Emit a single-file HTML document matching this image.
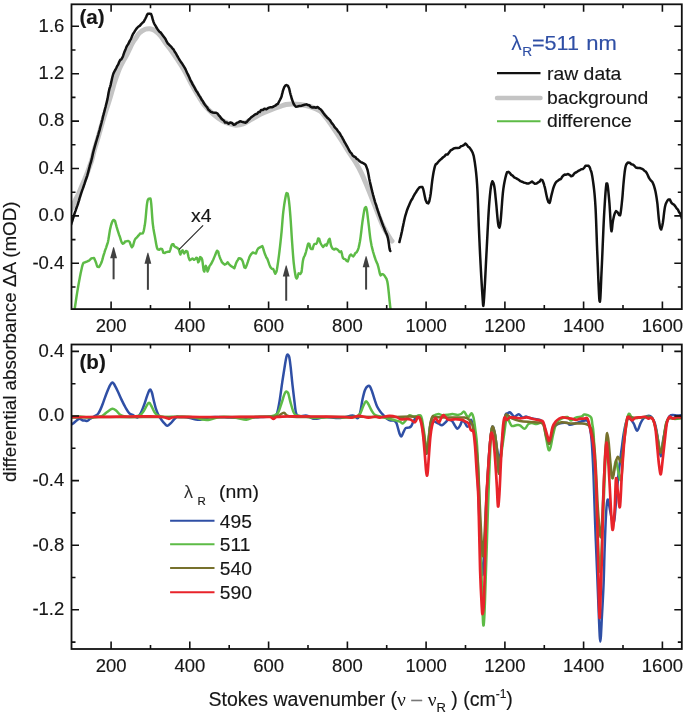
<!DOCTYPE html><html><head><meta charset="utf-8"><style>html,body{margin:0;padding:0;background:#fff;}svg{display:block;filter:blur(0.35px);} text{font-family:'Liberation Sans', sans-serif;fill:#161616;stroke:#161616;stroke-width:0.15px;}</style></head><body>
<svg width="685" height="716" viewBox="0 0 685 716">
<rect width="685" height="716" fill="#fff"/>
<defs><clipPath id="ca"><rect x="71.5" y="4.3" width="610.3" height="304.8"/></clipPath><clipPath id="cb"><rect x="71.5" y="344.5" width="610.3" height="304.5"/></clipPath></defs>
<g clip-path="url(#ca)" fill="none" stroke-linejoin="round" stroke-linecap="round">
<path d="M70.00,211.00 C70.43,210.33 71.77,208.67 72.60,207.00 C73.43,205.33 74.10,203.00 75.00,201.00 C75.90,199.00 77.00,197.17 78.00,195.00 C79.00,192.83 80.00,190.33 81.00,188.00 C82.00,185.67 83.08,183.17 84.00,181.00 C84.92,178.83 85.67,177.17 86.50,175.00 C87.33,172.83 88.12,170.50 89.00,168.00 C89.88,165.50 90.92,163.00 91.80,160.00 C92.68,157.00 93.23,153.83 94.30,150.00 C95.37,146.17 96.98,141.17 98.20,137.00 C99.42,132.83 100.53,128.67 101.60,125.00 C102.67,121.33 103.57,118.33 104.60,115.00 C105.63,111.67 106.85,108.00 107.80,105.00 C108.75,102.00 109.55,99.50 110.30,97.00 C111.05,94.50 111.63,92.33 112.30,90.00 C112.97,87.67 113.60,85.25 114.30,83.00 C115.00,80.75 115.80,78.50 116.50,76.50 C117.20,74.50 117.80,72.75 118.50,71.00 C119.20,69.25 119.87,67.75 120.70,66.00 C121.53,64.25 122.53,62.27 123.50,60.50 C124.47,58.73 125.53,57.23 126.50,55.40 C127.47,53.57 128.35,51.48 129.30,49.50 C130.25,47.52 131.17,45.33 132.20,43.50 C133.23,41.67 134.30,40.25 135.50,38.50 C136.70,36.75 137.78,34.53 139.40,33.00 C141.02,31.47 143.45,30.02 145.20,29.30 C146.95,28.58 148.33,28.52 149.90,28.70 C151.47,28.88 152.85,29.23 154.60,30.40 C156.35,31.57 158.47,33.45 160.40,35.70 C162.33,37.95 164.60,41.72 166.20,43.90 C167.80,46.08 168.20,46.28 170.00,48.80 C171.80,51.32 174.57,55.30 177.00,59.00 C179.43,62.70 182.10,66.67 184.60,71.00 C187.10,75.33 189.60,80.67 192.00,85.00 C194.40,89.33 196.83,93.50 199.00,97.00 C201.17,100.50 202.53,103.08 205.00,106.00 C207.47,108.92 210.97,112.08 213.80,114.50 C216.63,116.92 219.30,118.92 222.00,120.50 C224.70,122.08 227.67,123.20 230.00,124.00 C232.33,124.80 233.83,125.30 236.00,125.30 C238.17,125.30 240.37,125.05 243.00,124.00 C245.63,122.95 249.30,120.42 251.80,119.00 C254.30,117.58 255.82,116.62 258.00,115.50 C260.18,114.38 262.90,113.18 264.90,112.30 C266.90,111.42 267.48,111.17 270.00,110.20 C272.52,109.23 277.33,107.45 280.00,106.50 C282.67,105.55 284.00,104.92 286.00,104.50 C288.00,104.08 289.67,104.00 292.00,104.00 C294.33,104.00 297.00,104.08 300.00,104.50 C303.00,104.92 306.67,105.42 310.00,106.50 C313.33,107.58 317.50,109.33 320.00,111.00 C322.50,112.67 323.33,114.50 325.00,116.50 C326.67,118.50 328.33,120.67 330.00,123.00 C331.67,125.33 332.92,127.33 335.00,130.50 C337.08,133.67 340.17,138.33 342.50,142.00 C344.83,145.67 346.85,149.17 349.00,152.50 C351.15,155.83 353.35,158.62 355.40,162.00 C357.45,165.38 359.33,168.72 361.30,172.80 C363.27,176.88 364.92,180.97 367.20,186.50 C369.48,192.03 372.40,199.48 375.00,206.00 C377.60,212.52 380.20,220.05 382.80,225.60 C385.40,231.15 389.07,236.73 390.60,239.30 C392.13,241.87 391.77,240.72 392.00,241.00" stroke="#c4c4c4" stroke-width="5"/>
<path d="M71.10,224.60 L71.71,222.68 L72.36,220.81 L73.00,218.47 L73.59,216.82 L74.19,214.69 L74.86,212.60 L75.63,210.62 L76.22,208.72 L76.82,207.00 L77.43,205.40 L78.00,203.76 L78.53,201.92 L79.05,200.32 L79.55,198.44 L80.07,196.83 L80.60,195.14 L81.17,193.31 L81.76,191.57 L82.35,189.85 L82.94,188.39 L83.50,186.77 L84.03,185.18 L84.55,183.71 L85.29,181.27 L86.00,179.29 L86.67,177.26 L87.31,175.34 L87.91,173.16 L88.47,171.20 L88.97,168.98 L89.47,167.13 L89.97,165.03 L90.45,163.50 L90.95,162.18 L91.50,159.76 L91.90,158.39 L92.30,156.47 L92.74,154.38 L93.23,152.31 L93.80,150.06 L94.47,147.70 L95.24,144.93 L96.04,142.18 L96.85,139.49 L97.60,136.88 L98.30,134.53 L98.99,132.01 L99.66,129.86 L100.30,127.20 L100.90,125.07 L101.45,122.98 L101.95,120.85 L102.43,119.32 L102.91,116.92 L103.40,115.17 L103.93,113.07 L104.48,111.19 L105.03,108.68 L105.54,107.02 L106.00,105.02 L106.56,102.85 L107.03,100.90 L107.46,99.14 L107.87,96.86 L108.24,94.68 L108.61,92.46 L109.06,90.52 L109.56,88.21 L110.10,86.87 L110.70,84.61 L111.14,82.60 L111.61,80.56 L112.10,78.28 L112.60,76.44 L113.10,74.53 L113.85,72.55 L114.61,71.11 L115.42,69.70 L116.28,67.97 L117.19,65.93 L118.15,64.63 L119.14,61.98 L120.23,59.93 L121.33,59.30 L122.30,57.67 L123.08,55.94 L123.74,53.94 L124.38,52.07 L125.05,50.42 L125.71,48.91 L126.40,47.08 L127.17,45.50 L128.02,44.51 L128.93,42.66 L129.90,40.60 L130.90,39.15 L131.59,37.32 L132.32,35.50 L133.09,33.86 L133.93,32.77 L134.83,31.10 L135.78,29.66 L136.76,28.28 L138.20,26.74 L139.69,25.87 L141.19,24.17 L142.53,22.75 L143.76,21.78 L144.58,20.06 L145.44,18.50 L146.17,16.99 L146.90,15.18 L147.82,13.82 L149.50,13.62 L151.04,14.06 L151.96,16.40 L152.47,18.46 L153.01,20.47 L153.60,22.20 L154.44,24.07 L155.42,25.74 L156.32,27.24 L157.38,28.97 L158.48,30.44 L159.54,31.87 L160.87,32.68 L162.30,34.69 L163.60,36.44 L164.59,37.79 L165.61,39.26 L166.58,41.40 L167.74,43.48 L168.81,44.32 L170.00,45.65 L171.38,46.95 L172.58,48.58 L173.59,49.53 L174.71,51.71 L175.85,53.27 L176.96,55.44 L178.04,57.26 L179.12,59.26 L180.20,60.84 L181.31,62.59 L182.42,64.10 L183.53,65.87 L184.62,67.66 L185.70,69.63 L186.42,71.37 L187.14,73.02 L187.87,74.35 L188.61,75.91 L189.35,77.57 L190.09,79.43 L190.83,80.96 L191.56,82.12 L192.61,84.39 L193.66,86.11 L194.80,88.03 L195.63,89.90 L196.50,91.26 L197.40,92.38 L198.31,94.05 L199.20,95.62 L200.12,96.88 L201.07,98.60 L202.00,100.35 L202.86,101.20 L203.90,103.34 L204.92,104.79 L206.10,106.27 L207.13,107.43 L208.27,109.55 L209.40,110.50 L210.84,111.90 L212.71,112.43 L214.36,112.73 L216.14,112.74 L217.79,113.81 L218.89,115.52 L219.96,116.49 L221.10,118.25 L222.37,119.50 L223.71,120.42 L225.06,122.45 L226.82,122.42 L228.59,123.80 L230.34,122.48 L232.09,123.04 L233.79,124.85 L235.36,124.28 L236.82,122.94 L238.26,122.36 L240.06,121.18 L241.87,121.77 L243.72,122.32 L245.56,122.65 L246.96,121.82 L248.41,119.98 L249.63,119.00 L250.95,117.49 L252.31,116.44 L253.64,115.62 L255.40,114.31 L257.16,113.77 L258.48,112.03 L259.80,111.97 L261.12,109.94 L262.89,109.88 L264.70,108.66 L266.40,109.31 L268.19,107.93 L270.00,107.37 L271.79,107.31 L273.66,106.49 L275.25,105.71 L276.59,104.48 L277.90,103.92 L278.96,101.75 L280.03,99.72 L280.70,98.37 L281.57,96.44 L282.03,94.34 L282.43,92.89 L282.83,91.18 L283.50,89.19 L284.34,86.92 L285.26,85.65 L286.40,84.98 L287.95,85.89 L288.82,87.68 L289.27,88.94 L289.72,90.96 L290.18,92.96 L290.65,94.76 L291.16,96.46 L291.70,98.49 L292.26,100.12 L292.81,101.64 L293.60,103.82 L294.41,105.01 L295.80,106.72 L297.44,106.55 L299.37,106.09 L301.20,105.90 L303.02,105.23 L304.70,104.82 L306.46,104.37 L308.10,105.13 L309.41,105.16 L310.76,106.94 L312.33,107.49 L314.16,107.17 L315.90,107.76 L317.52,106.98 L319.30,108.53 L320.83,109.46 L321.99,111.00 L323.19,112.76 L324.35,114.38 L325.44,115.68 L327.03,117.44 L328.57,118.78 L330.00,120.23 L331.20,122.21 L332.25,123.66 L333.43,125.01 L334.42,126.85 L335.58,128.13 L336.83,129.42 L338.09,131.44 L339.27,132.59 L340.29,134.23 L341.17,135.99 L341.98,136.98 L342.76,138.76 L343.57,139.94 L344.45,141.96 L345.39,143.36 L346.35,145.32 L347.30,146.68 L348.19,148.51 L349.36,150.80 L350.38,152.36 L351.34,153.16 L352.67,155.49 L354.00,156.48 L355.40,157.07 L356.57,158.80 L357.80,159.29 L359.30,160.97 L360.76,162.11 L362.46,162.74 L363.95,163.61 L365.04,164.28 L365.97,165.57 L366.90,168.07 L367.49,169.76 L368.05,172.33 L368.59,175.00 L369.16,178.18 L369.77,181.19 L370.44,184.14 L371.17,187.14 L371.54,188.70 L371.93,190.24 L372.32,191.90 L372.73,193.48 L373.14,195.10 L373.57,196.58 L374.00,198.43 L374.45,199.81 L374.92,201.55 L375.40,203.14 L375.89,204.46 L376.39,205.95 L376.89,207.94 L377.40,209.29 L377.90,210.90 L378.41,212.38 L379.39,215.38 L380.40,218.08 L381.41,221.05 L382.40,223.69 L383.35,226.30 L384.24,228.23 L385.11,230.80 L385.94,232.57 L386.71,234.05 L387.40,236.16 L387.98,238.45 L388.45,241.05 L388.85,243.69 L389.18,246.31 L389.47,248.31 L389.83,250.01 L390.30,251.00" stroke="#111" stroke-width="2.5"/>
<path d="M399.40,242.10 L399.88,240.04 L400.32,238.26 L400.84,236.34 L401.41,233.65 L402.00,231.20 L402.65,227.83 L402.99,226.40 L403.35,224.54 L403.72,222.85 L404.10,220.90 L404.49,219.25 L404.89,217.52 L405.30,215.91 L406.15,213.14 L407.04,210.21 L407.97,207.74 L408.96,205.43 L410.00,202.91 L411.14,200.45 L412.37,198.69 L413.63,196.03 L414.86,193.86 L416.00,192.24 L417.06,190.45 L418.08,188.99 L419.50,187.20 L421.03,187.08 L422.45,187.11 L423.10,188.73 L423.58,190.48 L424.06,192.87 L424.55,195.17 L425.03,197.48 L425.50,199.72 L426.19,201.24 L426.88,202.88 L428.27,203.40 L429.24,201.41 L429.72,199.19 L430.20,196.81 L430.68,193.92 L430.92,191.96 L431.16,189.93 L431.40,187.85 L431.64,185.70 L431.88,183.58 L432.12,181.52 L432.36,179.75 L432.60,178.10 L433.08,175.03 L433.56,172.28 L434.03,169.98 L434.51,167.88 L435.00,165.95 L435.66,164.39 L436.83,163.68 L438.36,161.75 L439.89,160.12 L441.54,158.72 L443.10,157.27 L444.61,156.15 L446.10,154.40 L447.60,154.48 L449.10,152.43 L450.59,150.42 L452.10,149.61 L453.62,148.55 L455.66,148.04 L457.70,148.05 L459.29,147.82 L460.88,146.29 L462.30,145.91 L463.82,145.15 L465.53,143.53 L467.02,145.14 L468.23,146.91 L469.38,147.49 L470.54,149.07 L471.68,150.81 L472.70,152.78 L473.28,154.54 L473.81,156.43 L474.29,159.26 L474.74,161.95 L475.20,165.25 L475.43,166.99 L475.65,168.66 L475.87,170.53 L476.09,172.49 L476.30,174.70 L476.51,176.79 L476.71,179.21 L476.91,181.82 L477.11,184.69 L477.30,187.81 L477.49,191.29 L477.66,195.12 L477.84,199.26 L478.00,203.71 L478.17,208.26 L478.33,212.90 L478.50,217.50 L478.66,222.03 L478.83,226.44 L479.00,230.57 L479.18,234.58 L479.35,238.53 L479.53,242.45 L479.70,246.34 L479.88,250.10 L480.06,253.86 L480.24,257.53 L480.43,261.17 L480.61,264.75 L480.80,268.29 L481.00,271.83 L481.21,275.57 L481.43,279.32 L481.65,283.11 L481.87,286.73 L482.08,290.20 L482.29,293.44 L482.48,296.29 L482.65,298.86 L482.80,300.96 L482.92,302.55 L483.09,304.96 L483.34,305.90 L483.60,303.83 L483.83,301.32 L483.95,299.64 L484.08,297.80 L484.22,295.71 L484.35,293.50 L484.50,291.03 L484.65,288.61 L484.80,285.93 L484.96,283.08 L485.12,280.04 L485.28,276.86 L485.45,273.49 L485.63,269.96 L485.81,266.30 L485.99,262.47 L486.19,258.62 L486.39,254.73 L486.60,250.71 L486.82,246.44 L487.06,241.90 L487.30,237.09 L487.55,232.17 L487.81,227.26 L488.07,222.33 L488.33,217.63 L488.59,213.14 L488.85,208.99 L489.10,205.38 L489.35,202.22 L489.60,199.08 L489.85,196.26 L490.10,193.78 L490.35,191.39 L490.60,189.28 L490.85,187.51 L491.10,185.65 L491.60,183.36 L492.37,181.29 L493.40,182.87 L494.10,185.41 L494.49,187.59 L494.84,190.05 L495.16,193.01 L495.33,194.73 L495.51,196.63 L495.69,198.49 L495.90,200.35 L496.12,202.73 L496.36,205.19 L496.61,208.00 L496.87,211.02 L497.14,214.08 L497.40,217.03 L497.66,219.72 L497.92,222.06 L498.17,224.02 L498.62,226.28 L499.40,227.68 L499.98,225.66 L500.40,223.02 L500.63,220.97 L500.87,218.47 L501.11,215.47 L501.36,212.14 L501.62,208.64 L501.88,205.08 L502.13,201.57 L502.39,198.33 L502.65,195.33 L502.90,192.74 L503.15,190.67 L503.40,188.71 L503.65,187.01 L503.90,185.27 L504.40,182.43 L504.90,179.93 L505.40,177.81 L505.88,175.88 L506.34,174.20 L507.05,172.30 L508.56,171.85 L510.03,173.26 L511.27,174.86 L512.64,175.66 L514.20,177.33 L515.76,178.02 L517.13,178.87 L518.68,179.80 L520.50,181.17 L521.99,181.71 L523.50,182.44 L525.18,182.90 L527.06,183.47 L528.80,183.41 L530.49,182.51 L532.00,181.42 L533.52,182.84 L534.77,183.76 L536.56,183.51 L538.08,182.39 L539.50,181.70 L540.86,179.60 L542.38,180.11 L543.16,182.06 L543.88,183.95 L544.35,185.80 L544.85,187.41 L545.36,189.77 L545.86,192.34 L546.36,194.68 L546.86,196.90 L547.34,199.05 L547.81,200.31 L548.51,202.27 L549.61,202.94 L550.20,201.21 L550.58,199.30 L550.97,197.36 L551.40,195.49 L551.87,193.58 L552.36,191.72 L552.88,189.71 L553.39,187.93 L553.90,186.49 L554.61,184.84 L555.31,183.20 L556.40,181.75 L557.83,180.74 L559.42,179.48 L560.96,178.99 L562.11,176.86 L563.25,175.60 L564.74,174.57 L566.22,174.64 L568.08,174.03 L569.59,174.84 L571.12,176.20 L572.64,175.81 L573.79,174.18 L574.92,172.94 L576.41,172.25 L577.89,171.21 L579.37,170.45 L581.22,169.27 L582.80,169.11 L584.14,167.93 L585.57,165.69 L586.90,165.83 L588.67,165.85 L589.84,167.57 L590.67,170.12 L591.19,171.42 L591.69,173.24 L592.17,175.65 L592.65,178.62 L592.90,180.35 L593.15,182.13 L593.41,183.98 L593.67,185.98 L593.92,188.09 L594.18,190.36 L594.44,192.88 L594.69,195.56 L594.93,198.55 L595.17,201.78 L595.40,205.38 L595.62,209.42 L595.83,213.90 L596.03,218.78 L596.22,223.87 L596.41,229.22 L596.60,234.64 L596.79,240.07 L596.99,245.49 L597.19,250.71 L597.40,255.66 L597.62,260.88 L597.85,266.55 L598.08,272.45 L598.31,278.46 L598.55,284.22 L598.79,289.55 L599.02,294.29 L599.25,298.09 L599.48,300.73 L599.91,301.82 L600.31,298.62 L600.50,295.44 L600.69,291.63 L600.88,287.27 L601.07,282.57 L601.27,277.73 L601.48,272.96 L601.70,268.34 L601.93,263.54 L602.17,258.20 L602.41,252.47 L602.66,246.51 L602.92,240.45 L603.18,234.35 L603.43,228.41 L603.69,222.77 L603.95,217.61 L604.20,212.98 L604.45,208.75 L604.70,204.61 L604.95,200.62 L605.20,196.82 L605.45,193.33 L605.70,190.24 L605.95,187.64 L606.20,185.40 L606.45,183.52 L607.21,183.44 L607.72,185.81 L607.98,188.01 L608.23,190.14 L608.48,192.68 L608.73,195.30 L608.97,197.93 L609.20,200.38 L609.43,203.04 L609.65,206.22 L609.87,209.80 L610.09,213.49 L610.30,217.22 L610.51,220.87 L610.71,224.13 L610.91,226.98 L611.11,229.13 L611.48,231.35 L611.97,229.38 L612.28,226.37 L612.44,224.74 L612.62,223.12 L613.00,220.52 L613.45,218.51 L613.94,216.24 L614.46,214.34 L614.99,212.87 L616.01,211.13 L617.28,211.95 L618.45,213.79 L619.08,214.99 L620.10,215.29 L620.51,213.76 L620.92,210.94 L621.12,209.44 L621.33,207.67 L621.53,205.89 L621.72,204.08 L621.91,202.09 L622.10,200.40 L622.28,198.51 L622.46,196.58 L622.63,194.54 L622.80,192.46 L622.96,190.27 L623.13,188.18 L623.29,186.01 L623.46,183.99 L623.63,182.08 L623.80,180.34 L623.97,178.62 L624.14,176.95 L624.31,175.37 L624.65,172.30 L625.01,169.79 L625.39,167.51 L625.82,165.75 L626.51,164.09 L627.81,162.57 L629.67,162.72 L631.40,164.21 L632.85,164.62 L634.35,165.75 L635.85,167.50 L637.76,168.06 L639.66,168.04 L641.56,168.66 L643.08,169.33 L644.64,171.01 L645.78,171.63 L646.85,173.26 L647.83,175.25 L648.77,177.50 L649.70,178.94 L650.94,180.59 L652.14,181.71 L652.97,183.25 L653.76,185.19 L654.50,187.57 L654.97,189.42 L655.43,191.27 L655.87,193.50 L656.30,195.94 L656.71,198.62 L657.11,201.46 L657.49,204.43 L657.66,206.26 L657.84,208.05 L658.00,210.03 L658.17,211.90 L658.33,213.81 L658.50,215.68 L658.66,217.46 L658.83,219.02 L659.18,221.82 L659.53,224.27 L659.88,226.40 L660.24,228.10 L661.18,229.53 L661.95,226.96 L662.36,225.22 L662.80,223.00 L663.25,219.89 L663.47,218.22 L663.70,216.19 L663.94,214.16 L664.18,212.14 L664.44,210.21 L664.71,208.40 L665.00,206.80 L665.63,204.17 L666.39,202.49 L667.20,201.02 L668.40,199.38 L669.92,199.53 L670.60,201.14 L671.32,202.64 L672.56,203.95 L673.94,204.63 L675.18,206.06 L676.17,207.69 L677.13,208.87 L677.99,209.74 L678.96,212.05 L679.88,213.07 L680.62,214.47 L681.22,216.03 L681.68,217.97 L682.00,219.00" stroke="#111" stroke-width="2.5"/>
<path d="M74.50,310.20 L74.95,307.21 L75.24,305.24 L75.58,302.96 L75.94,300.55 L76.31,298.02 L76.70,295.55 L77.08,293.17 L77.45,290.82 L77.80,288.76 L78.14,286.73 L78.49,284.75 L78.85,282.76 L79.21,280.69 L79.57,278.95 L79.92,277.09 L80.27,275.35 L80.60,273.56 L81.20,270.67 L81.70,268.42 L82.11,266.59 L82.69,264.57 L83.40,262.99 L85.03,262.28 L86.80,261.69 L88.45,260.91 L89.77,259.94 L91.15,258.54 L92.57,258.14 L94.02,258.00 L94.87,259.87 L95.48,261.30 L96.14,263.01 L96.78,265.17 L97.47,266.89 L98.95,267.11 L100.00,265.53 L101.01,263.56 L101.83,261.51 L102.30,259.99 L102.74,258.45 L103.16,256.59 L103.60,255.12 L104.27,253.05 L104.92,250.86 L105.58,249.07 L106.24,247.32 L106.89,245.23 L107.55,243.44 L108.00,241.69 L108.46,239.30 L108.92,236.55 L109.38,233.53 L109.84,230.60 L110.30,228.36 L110.75,226.41 L111.19,224.75 L111.84,222.75 L112.50,221.17 L113.59,219.90 L114.93,220.70 L115.62,223.13 L116.08,224.80 L116.54,226.64 L117.00,228.17 L117.66,230.29 L118.32,232.31 L118.98,234.48 L119.66,236.19 L120.35,238.47 L121.04,240.67 L121.72,242.39 L122.82,243.83 L124.32,242.91 L125.15,241.44 L126.51,241.22 L128.28,240.86 L129.61,241.88 L130.51,244.34 L131.08,245.94 L131.92,247.31 L133.01,245.84 L133.52,244.00 L134.05,242.09 L134.61,240.25 L135.54,238.65 L136.92,237.38 L138.20,235.74 L139.20,234.80 L140.06,233.48 L141.38,233.64 L142.70,233.34 L143.39,231.98 L143.85,230.31 L144.31,227.88 L144.77,225.30 L145.22,222.10 L145.45,219.96 L145.67,217.78 L145.89,215.33 L146.11,212.85 L146.32,210.42 L146.54,208.10 L146.76,205.95 L146.98,204.15 L147.42,201.39 L147.88,199.72 L148.78,198.66 L150.37,198.41 L150.83,200.31 L151.17,203.04 L151.34,204.94 L151.51,207.07 L151.69,209.45 L151.86,212.02 L152.04,214.61 L152.22,217.16 L152.41,219.65 L152.60,221.81 L152.80,223.85 L153.00,225.45 L153.43,228.50 L153.88,231.23 L154.33,233.70 L154.78,236.04 L155.22,238.47 L155.66,241.05 L156.09,243.57 L156.53,245.89 L156.98,247.68 L157.66,249.39 L159.27,249.82 L160.61,248.79 L161.91,248.85 L162.72,250.72 L163.38,252.75 L164.87,253.06 L166.33,252.09 L168.03,251.82 L169.50,251.70 L170.33,249.59 L170.93,247.39 L171.51,245.45 L172.30,244.11 L173.43,244.30 L174.10,246.02 L175.68,247.16 L177.25,247.94 L178.60,249.05 L179.21,250.62 L179.72,252.85 L180.40,254.50 L181.12,252.86 L181.65,251.37 L182.56,250.30 L183.28,252.04 L184.10,253.47 L185.12,252.26 L185.96,250.92 L187.34,251.55 L187.88,254.07 L188.42,256.56 L188.96,258.45 L189.77,260.12 L191.11,259.35 L192.48,258.45 L193.95,259.80 L195.42,259.02 L196.13,257.82 L197.16,257.86 L197.70,260.12 L198.24,262.35 L199.14,261.09 L199.68,259.39 L200.22,257.07 L201.48,257.93 L202.20,259.77 L202.56,261.98 L202.92,264.89 L203.28,267.85 L203.64,270.38 L204.36,271.58 L204.89,268.90 L205.25,266.91 L205.80,265.83 L206.56,267.24 L206.94,268.73 L207.51,271.44 L208.43,269.41 L208.96,267.85 L209.50,266.16 L210.52,264.71 L211.53,263.20 L212.29,261.66 L213.12,260.04 L214.00,257.88 L214.64,256.36 L215.33,254.78 L216.03,252.75 L217.01,250.68 L218.24,251.78 L218.84,254.31 L219.50,256.39 L220.27,258.46 L221.10,260.24 L221.93,262.15 L223.01,263.28 L224.63,264.65 L226.24,263.92 L227.60,262.29 L228.94,264.06 L230.09,265.24 L231.45,266.38 L232.59,267.02 L234.31,268.24 L235.14,266.06 L235.66,264.43 L236.17,263.00 L236.97,261.27 L237.78,260.09 L238.85,258.12 L240.52,258.50 L241.92,259.73 L242.75,261.52 L243.29,263.36 L243.82,265.43 L244.36,267.43 L245.44,267.94 L246.25,266.34 L247.06,264.21 L247.87,261.89 L248.41,260.14 L248.94,258.73 L249.48,256.97 L250.30,255.44 L251.42,253.79 L252.82,252.49 L254.51,253.16 L256.01,253.49 L256.64,251.48 L257.14,250.08 L258.24,248.30 L259.85,247.44 L261.40,246.56 L262.30,246.10 L262.99,247.66 L263.55,249.75 L264.14,251.55 L264.72,253.49 L265.54,255.40 L266.35,257.42 L267.16,258.55 L267.97,260.57 L268.51,262.08 L269.04,263.72 L269.58,265.20 L270.40,267.15 L271.80,268.74 L273.20,269.01 L274.02,270.86 L274.56,272.47 L275.36,273.77 L276.44,271.68 L276.98,269.13 L277.25,267.62 L277.52,265.72 L277.79,263.92 L278.06,262.07 L278.33,260.10 L278.60,258.10 L278.87,256.10 L279.15,253.87 L279.44,251.49 L279.72,249.06 L280.01,246.62 L280.28,244.17 L280.56,241.62 L280.82,239.15 L281.07,236.76 L281.30,234.45 L281.52,232.26 L281.72,229.99 L281.90,227.81 L282.08,225.53 L282.25,223.43 L282.42,221.29 L282.58,219.19 L282.75,217.29 L282.92,215.37 L283.10,213.52 L283.29,211.88 L283.48,210.32 L283.86,207.31 L284.24,204.68 L284.62,202.24 L285.00,200.04 L285.37,197.95 L285.73,196.10 L286.08,194.46 L286.62,193.03 L287.70,193.53 L288.24,196.15 L288.60,198.27 L288.96,200.86 L289.32,204.08 L289.50,205.96 L289.68,207.74 L289.86,209.82 L290.04,211.97 L290.22,214.04 L290.40,216.32 L290.58,218.72 L290.76,221.24 L290.94,223.97 L291.12,226.80 L291.30,229.65 L291.48,232.57 L291.66,235.46 L291.84,238.28 L292.02,240.96 L292.20,243.50 L292.38,245.91 L292.55,248.33 L292.72,250.72 L292.89,253.01 L293.06,255.23 L293.24,257.41 L293.42,259.62 L293.60,261.59 L293.80,263.50 L294.00,265.19 L294.22,267.10 L294.44,268.87 L294.68,270.66 L294.93,272.27 L295.43,275.22 L295.92,277.58 L296.63,278.45 L297.48,277.22 L297.91,275.42 L298.60,273.30 L300.26,273.99 L301.51,272.02 L301.88,269.42 L302.20,266.62 L302.52,263.70 L302.89,261.02 L303.33,258.93 L303.84,257.28 L304.67,255.74 L305.52,253.54 L306.08,251.53 L306.66,249.20 L307.26,246.94 L307.83,244.64 L308.36,243.57 L309.39,243.98 L309.89,246.16 L310.40,248.13 L311.30,249.01 L312.55,249.05 L313.04,247.37 L313.58,245.49 L314.50,243.87 L316.20,243.90 L317.12,242.53 L317.65,240.26 L318.15,238.42 L319.21,238.94 L319.77,240.78 L320.40,242.71 L321.18,244.24 L322.05,245.74 L323.10,246.98 L324.22,245.67 L325.25,244.53 L326.48,245.64 L327.47,243.58 L328.04,241.82 L328.62,240.12 L329.62,238.82 L330.18,241.15 L330.52,243.06 L330.88,244.90 L331.54,246.80 L332.60,248.71 L334.00,249.57 L335.62,248.66 L337.25,249.37 L338.38,250.41 L339.62,252.02 L341.20,251.39 L341.74,253.05 L342.28,255.47 L342.88,257.85 L343.88,258.87 L345.56,259.36 L346.54,260.84 L347.83,261.43 L348.61,259.05 L349.17,257.11 L349.74,255.68 L350.86,254.52 L352.01,255.48 L353.35,256.36 L354.27,255.12 L355.17,253.35 L356.59,252.30 L357.80,250.24 L358.52,248.05 L359.00,246.14 L359.48,243.76 L359.96,241.21 L360.44,238.14 L360.68,236.38 L360.92,234.41 L361.16,232.51 L361.41,230.39 L361.65,228.26 L361.89,226.22 L362.13,224.36 L362.36,222.38 L362.60,220.74 L362.84,219.14 L363.08,217.49 L363.56,214.32 L364.03,211.60 L364.48,209.32 L364.90,207.90 L365.93,207.03 L366.60,208.90 L366.96,210.88 L367.32,213.44 L367.69,216.46 L367.89,218.08 L368.08,219.73 L368.29,221.46 L368.50,223.05 L368.71,224.80 L368.93,226.67 L369.15,228.54 L369.37,230.57 L369.60,232.52 L369.84,234.59 L370.08,236.63 L370.34,238.56 L370.61,240.37 L370.90,242.09 L371.20,243.64 L371.53,245.46 L372.22,248.39 L372.94,251.29 L373.68,253.75 L374.40,256.28 L375.13,258.29 L375.89,260.54 L376.64,262.35 L377.36,263.74 L378.00,265.79 L378.56,267.92 L379.05,269.98 L379.50,272.13 L379.95,273.97 L380.63,275.38 L382.01,274.08 L383.41,274.46 L384.62,275.79 L385.58,277.33 L386.54,278.85 L387.26,281.28 L387.75,284.04 L388.01,285.87 L388.27,288.14 L388.54,290.53 L388.81,293.04 L389.06,295.59 L389.30,298.01 L389.53,300.26 L389.73,302.15 L389.90,303.75 L390.16,306.11 L390.40,308.23 L390.60,310.00" stroke="#5dbb46" stroke-width="2.45"/>
</g>
<line x1="113.6" y1="256.2" x2="113.6" y2="279.3" stroke="#404040" stroke-width="2"/>
<polygon points="110.2,258.2 113.2,247.2 114.0,247.2 117.0,258.2" fill="#404040"/>
<line x1="147.9" y1="261.8" x2="147.9" y2="289.8" stroke="#404040" stroke-width="2"/>
<polygon points="144.5,263.8 147.5,252.8 148.3,252.8 151.3,263.8" fill="#404040"/>
<line x1="286.2" y1="274.6" x2="286.2" y2="300.7" stroke="#404040" stroke-width="2"/>
<polygon points="282.8,276.6 285.8,265.6 286.6,265.6 289.6,276.6" fill="#404040"/>
<line x1="366.1" y1="265.3" x2="366.1" y2="289.6" stroke="#404040" stroke-width="2"/>
<polygon points="362.7,267.3 365.7,256.3 366.5,256.3 369.5,267.3" fill="#404040"/>
<line x1="203.1" y1="225.4" x2="179.2" y2="249.4" stroke="#222" stroke-width="1.1"/>
<text transform="translate(191.00,221.90) scale(1.08,1)" font-size="18">x4</text>
<g clip-path="url(#cb)" fill="none" stroke-linejoin="round" stroke-linecap="round">
<path d="M72.00,424.10 C72.25,423.95 72.67,423.85 73.50,423.20 C74.33,422.55 75.98,420.93 77.00,420.20 C78.02,419.47 78.72,418.80 79.60,418.80 C80.48,418.80 81.42,419.90 82.30,420.20 C83.18,420.50 84.03,420.48 84.90,420.60 C85.77,420.72 86.63,421.20 87.50,420.90 C88.37,420.60 89.03,419.52 90.10,418.80 C91.17,418.08 92.60,417.40 93.90,416.60 C95.20,415.80 96.80,415.20 97.90,414.00 C99.00,412.80 99.63,411.25 100.50,409.40 C101.37,407.55 102.12,405.52 103.10,402.90 C104.08,400.28 105.30,396.55 106.40,393.70 C107.50,390.85 108.72,387.67 109.70,385.80 C110.68,383.93 111.53,382.72 112.30,382.50 C113.07,382.28 113.42,383.08 114.30,384.50 C115.18,385.92 116.40,388.48 117.60,391.00 C118.80,393.52 120.18,396.85 121.50,399.60 C122.82,402.35 124.18,405.20 125.50,407.50 C126.82,409.80 128.08,412.10 129.40,413.40 C130.72,414.70 132.08,414.62 133.40,415.30 C134.72,415.98 136.10,417.82 137.30,417.50 C138.50,417.18 139.50,415.40 140.60,413.40 C141.70,411.40 142.80,408.47 143.90,405.50 C145.00,402.53 146.22,398.23 147.20,395.60 C148.18,392.97 149.03,390.25 149.80,389.70 C150.57,389.15 151.15,390.55 151.80,392.30 C152.45,394.05 153.05,397.57 153.70,400.20 C154.35,402.83 154.93,405.68 155.70,408.10 C156.47,410.52 157.32,412.73 158.30,414.70 C159.28,416.67 160.50,418.37 161.60,419.90 C162.70,421.43 163.92,422.92 164.90,423.90 C165.88,424.88 166.52,425.92 167.50,425.80 C168.48,425.68 169.70,424.28 170.80,423.20 C171.90,422.12 173.00,420.42 174.10,419.30 C175.20,418.18 176.50,416.87 177.40,416.50 C178.30,416.13 178.42,417.00 179.50,417.10 C180.58,417.20 182.15,416.95 183.90,417.10 C185.65,417.25 187.98,417.60 190.00,418.00 C192.02,418.40 194.20,419.22 196.00,419.50 C197.80,419.78 199.13,419.95 200.80,419.70 C202.47,419.45 203.63,418.45 206.00,418.00 C208.37,417.55 211.00,417.08 215.00,417.00 C219.00,416.92 225.00,417.33 230.00,417.50 C235.00,417.67 240.00,418.08 245.00,418.00 C250.00,417.92 255.83,417.25 260.00,417.00 C264.17,416.75 267.58,416.63 270.00,416.50 C272.42,416.37 273.37,416.57 274.50,416.20 C275.63,415.83 275.95,416.85 276.80,414.30 C277.65,411.75 278.68,406.30 279.60,400.90 C280.52,395.50 281.38,388.05 282.30,381.90 C283.22,375.75 284.40,368.23 285.10,364.00 C285.80,359.77 286.12,358.08 286.50,356.50 C286.88,354.92 287.08,354.70 287.40,354.50 C287.72,354.30 288.08,354.83 288.40,355.30 C288.72,355.77 288.92,355.30 289.30,357.30 C289.68,359.30 290.18,362.83 290.70,367.30 C291.22,371.77 291.83,378.88 292.40,384.10 C292.97,389.32 293.53,393.95 294.10,398.60 C294.67,403.25 295.25,409.20 295.80,412.00 C296.35,414.80 296.70,414.70 297.40,415.40 C298.10,416.10 298.40,416.15 300.00,416.20 C301.60,416.25 304.67,415.27 307.00,415.70 C309.33,416.13 311.83,418.42 314.00,418.80 C316.17,419.18 317.95,418.28 320.00,418.00 C322.05,417.72 322.92,417.10 326.30,417.10 C329.68,417.10 335.92,418.27 340.30,418.00 C344.68,417.73 349.68,415.47 352.60,415.50 C355.52,415.53 356.53,418.72 357.80,418.20 C359.07,417.68 359.42,415.52 360.20,412.40 C360.98,409.28 361.72,403.20 362.50,399.50 C363.28,395.80 364.02,392.43 364.90,390.20 C365.78,387.97 366.93,386.68 367.80,386.10 C368.67,385.52 369.33,385.63 370.10,386.70 C370.87,387.77 371.62,390.27 372.40,392.50 C373.18,394.73 374.02,397.77 374.80,400.10 C375.58,402.43 376.23,404.65 377.10,406.50 C377.97,408.35 378.93,409.73 380.00,411.20 C381.07,412.67 382.33,414.03 383.50,415.30 C384.67,416.57 385.83,417.93 387.00,418.80 C388.17,419.67 389.33,420.22 390.50,420.50 C391.67,420.78 393.02,420.10 394.00,420.50 C394.98,420.90 395.72,421.53 396.40,422.90 C397.08,424.27 397.52,426.75 398.10,428.70 C398.68,430.65 399.32,433.33 399.90,434.60 C400.48,435.87 401.02,436.70 401.60,436.30 C402.18,435.90 402.72,433.57 403.40,432.20 C404.08,430.83 404.83,428.87 405.70,428.10 C406.57,427.33 407.72,427.88 408.60,427.60 C409.48,427.32 410.22,427.38 411.00,426.40 C411.78,425.42 412.43,423.27 413.30,421.70 C414.17,420.13 415.25,417.95 416.20,417.00 C417.15,416.05 418.15,415.33 419.00,416.00 C419.85,416.67 420.62,418.33 421.30,421.00 C421.98,423.67 422.48,427.50 423.10,432.00 C423.72,436.50 424.42,444.42 425.00,448.00 C425.58,451.58 426.03,454.22 426.60,453.50 C427.17,452.78 427.80,448.28 428.40,443.70 C429.00,439.12 429.50,429.95 430.20,426.00 C430.90,422.05 431.82,420.72 432.60,420.00 C433.38,419.28 433.92,421.12 434.90,421.70 C435.88,422.28 437.32,422.90 438.50,423.50 C439.68,424.10 440.82,425.50 442.00,425.30 C443.18,425.10 444.60,423.20 445.60,422.30 C446.60,421.40 446.92,420.10 448.00,419.90 C449.08,419.70 450.92,420.10 452.10,421.10 C453.28,422.10 454.20,424.62 455.10,425.90 C456.00,427.18 456.70,428.80 457.50,428.80 C458.30,428.80 459.12,427.18 459.90,425.90 C460.68,424.62 461.42,421.70 462.20,421.10 C462.98,420.50 463.80,421.40 464.60,422.30 C465.40,423.20 466.22,426.00 467.00,426.50 C467.78,427.00 468.62,426.40 469.30,425.30 C469.98,424.20 470.40,419.45 471.10,419.90 C471.80,420.35 472.83,424.90 473.50,428.00 C474.17,431.10 474.52,432.33 475.10,438.50 C475.68,444.67 476.35,453.08 477.00,465.00 C477.65,476.92 478.42,495.83 479.00,510.00 C479.58,524.17 479.90,539.12 480.50,550.00 C481.10,560.88 481.93,575.30 482.60,575.30 C483.27,575.30 483.93,560.88 484.50,550.00 C485.07,539.12 485.42,523.33 486.00,510.00 C486.58,496.67 487.32,481.35 488.00,470.00 C488.68,458.65 489.38,449.10 490.10,441.90 C490.82,434.70 491.52,428.20 492.30,426.80 C493.08,425.40 493.98,429.63 494.80,433.50 C495.62,437.37 496.43,445.40 497.20,450.00 C497.97,454.60 498.85,460.27 499.40,461.10 C499.95,461.93 499.95,459.18 500.50,455.00 C501.05,450.82 501.92,442.50 502.70,436.00 C503.48,429.50 504.37,419.75 505.20,416.00 C506.03,412.25 506.87,414.08 507.70,413.50 C508.53,412.92 509.08,411.97 510.20,412.50 C511.32,413.03 513.00,416.42 514.40,416.70 C515.80,416.98 517.20,414.05 518.60,414.20 C520.00,414.35 521.57,417.22 522.80,417.60 C524.03,417.98 524.80,416.43 526.00,416.50 C527.20,416.57 527.67,417.42 530.00,418.00 C532.33,418.58 537.72,419.00 540.00,420.00 C542.28,421.00 542.70,421.83 543.70,424.00 C544.70,426.17 545.10,429.72 546.00,433.00 C546.90,436.28 548.18,443.03 549.10,443.70 C550.02,444.37 550.68,439.78 551.50,437.00 C552.32,434.22 552.72,429.25 554.00,427.00 C555.28,424.75 556.95,424.18 559.20,423.50 C561.45,422.82 565.72,422.70 567.50,422.90 C569.28,423.10 568.32,424.70 569.90,424.70 C571.48,424.70 574.53,423.60 577.00,422.90 C579.47,422.20 582.95,420.82 584.70,420.50 C586.45,420.18 586.62,419.72 587.50,421.00 C588.38,422.28 589.28,424.62 590.00,428.20 C590.72,431.78 591.22,434.70 591.80,442.50 C592.38,450.30 592.93,461.25 593.50,475.00 C594.07,488.75 594.58,508.42 595.20,525.00 C595.82,541.58 596.60,559.50 597.20,574.50 C597.80,589.50 598.28,603.82 598.80,615.00 C599.32,626.18 599.77,641.60 600.30,641.60 C600.83,641.60 601.45,624.68 602.00,615.00 C602.55,605.32 603.17,594.33 603.60,583.50 C604.03,572.67 604.20,561.42 604.60,550.00 C605.00,538.58 605.50,523.42 606.00,515.00 C606.50,506.58 606.92,500.27 607.60,499.50 C608.28,498.73 609.37,506.98 610.10,510.40 C610.83,513.82 611.30,518.33 612.00,520.00 C612.70,521.67 613.50,525.07 614.30,520.40 C615.10,515.73 616.02,500.40 616.80,492.00 C617.58,483.60 618.22,477.00 619.00,470.00 C619.78,463.00 620.67,456.33 621.50,450.00 C622.33,443.67 623.10,436.98 624.00,432.00 C624.90,427.02 625.90,422.27 626.90,420.10 C627.90,417.93 628.88,418.45 630.00,419.00 C631.12,419.55 632.40,421.43 633.60,423.40 C634.80,425.37 636.02,430.88 637.20,430.80 C638.38,430.72 639.53,425.08 640.70,422.90 C641.87,420.72 642.60,418.85 644.20,417.70 C645.80,416.55 648.55,415.13 650.30,416.00 C652.05,416.87 653.53,419.70 654.70,422.90 C655.87,426.10 656.28,429.67 657.30,435.20 C658.32,440.73 659.78,455.53 660.80,456.10 C661.82,456.67 662.23,444.72 663.40,438.60 C664.57,432.48 666.48,423.32 667.80,419.40 C669.12,415.48 669.70,415.73 671.30,415.10 C672.90,414.47 675.62,415.60 677.40,415.60 C679.18,415.60 681.23,415.18 682.00,415.10" stroke="#2f4fa5" stroke-width="2.5"/>
<path d="M72.00,417.00 C73.33,416.92 77.00,416.42 80.00,416.50 C83.00,416.58 86.67,417.50 90.00,417.50 C93.33,417.50 97.82,416.87 100.00,416.50 C102.18,416.13 101.92,416.05 103.10,415.30 C104.28,414.55 105.57,413.08 107.10,412.00 C108.63,410.92 110.77,409.02 112.30,408.80 C113.83,408.58 114.98,409.72 116.30,410.70 C117.62,411.68 118.58,413.73 120.20,414.70 C121.82,415.67 123.87,416.20 126.00,416.50 C128.13,416.80 130.68,416.70 133.00,416.50 C135.32,416.30 138.08,416.27 139.90,415.30 C141.72,414.33 142.47,412.77 143.90,410.70 C145.33,408.63 147.30,403.77 148.50,402.90 C149.70,402.03 150.12,403.98 151.10,405.50 C152.08,407.02 153.30,410.37 154.40,412.00 C155.50,413.63 155.93,414.47 157.70,415.30 C159.47,416.13 161.28,416.80 165.00,417.00 C168.72,417.20 175.00,416.42 180.00,416.50 C185.00,416.58 191.33,417.00 195.00,417.50 C198.67,418.00 199.58,419.13 202.00,419.50 C204.42,419.87 206.50,420.12 209.50,419.70 C212.50,419.28 215.75,417.37 220.00,417.00 C224.25,416.63 230.62,417.05 235.00,417.50 C239.38,417.95 242.97,419.78 246.30,419.70 C249.63,419.62 251.05,417.53 255.00,417.00 C258.95,416.47 266.28,417.05 270.00,416.50 C273.72,415.95 275.43,415.75 277.30,413.70 C279.17,411.65 280.08,407.27 281.20,404.20 C282.32,401.13 283.27,397.33 284.00,395.30 C284.73,393.27 285.18,392.65 285.60,392.00 C286.02,391.35 286.18,391.37 286.50,391.40 C286.82,391.43 287.17,391.73 287.50,392.20 C287.83,392.67 287.97,392.38 288.50,394.20 C289.03,396.02 289.87,400.13 290.70,403.10 C291.53,406.07 292.57,409.95 293.50,412.00 C294.43,414.05 294.38,414.65 296.30,415.40 C298.22,416.15 301.88,416.07 305.00,416.50 C308.12,416.93 310.83,417.92 315.00,418.00 C319.17,418.08 325.00,417.08 330.00,417.00 C335.00,416.92 340.83,417.50 345.00,417.50 C349.17,417.50 352.47,417.67 355.00,417.00 C357.53,416.33 358.85,415.25 360.20,413.50 C361.55,411.75 362.13,408.53 363.10,406.50 C364.07,404.47 365.12,401.68 366.00,401.30 C366.88,400.92 367.52,402.75 368.40,404.20 C369.28,405.65 370.23,408.25 371.30,410.00 C372.37,411.75 373.35,413.62 374.80,414.70 C376.25,415.78 376.80,415.62 380.00,416.50 C383.20,417.38 390.68,419.13 394.00,420.00 C397.32,420.87 398.43,421.12 399.90,421.70 C401.37,422.28 401.83,423.70 402.80,423.50 C403.77,423.30 404.63,421.87 405.70,420.50 C406.77,419.13 407.93,415.97 409.20,415.30 C410.47,414.63 411.93,416.40 413.30,416.50 C414.67,416.60 416.23,416.10 417.40,415.90 C418.57,415.70 419.55,414.83 420.30,415.30 C421.05,415.77 421.25,415.75 421.90,418.70 C422.55,421.65 423.42,427.65 424.20,433.00 C424.98,438.35 425.80,450.60 426.60,450.80 C427.40,451.00 428.20,439.35 429.00,434.20 C429.80,429.05 430.62,422.97 431.40,419.90 C432.18,416.83 432.52,416.78 433.70,415.80 C434.88,414.82 437.12,414.10 438.50,414.00 C439.88,413.90 440.22,415.10 442.00,415.20 C443.78,415.30 447.42,414.80 449.20,414.60 C450.98,414.40 451.32,413.95 452.70,414.00 C454.08,414.05 456.12,414.90 457.50,414.90 C458.88,414.90 459.92,414.55 461.00,414.00 C462.08,413.45 463.10,411.40 464.00,411.60 C464.90,411.80 465.70,414.20 466.40,415.20 C467.10,416.20 467.62,417.60 468.20,417.60 C468.78,417.60 469.32,415.90 469.90,415.20 C470.48,414.50 471.10,413.00 471.70,413.40 C472.30,413.80 472.90,414.93 473.50,417.60 C474.10,420.27 474.70,424.67 475.30,429.40 C475.90,434.13 476.48,435.90 477.10,446.00 C477.72,456.10 478.43,474.33 479.00,490.00 C479.57,505.67 480.00,523.33 480.50,540.00 C481.00,556.67 481.57,576.15 482.00,590.00 C482.43,603.85 482.72,618.57 483.10,623.10 C483.48,627.63 483.82,626.00 484.30,617.20 C484.78,608.40 485.45,586.50 486.00,570.30 C486.55,554.10 487.10,535.05 487.60,520.00 C488.10,504.95 488.52,492.50 489.00,480.00 C489.48,467.50 490.03,453.58 490.50,445.00 C490.97,436.42 491.02,430.13 491.80,428.50 C492.58,426.87 494.33,430.78 495.20,435.20 C496.07,439.62 496.45,448.87 497.00,455.00 C497.55,461.13 497.92,471.17 498.50,472.00 C499.08,472.83 499.67,465.58 500.50,460.00 C501.33,454.42 502.43,445.72 503.50,438.50 C504.57,431.28 505.92,419.48 506.90,416.70 C507.88,413.92 508.57,420.25 509.40,421.80 C510.23,423.35 510.63,425.45 511.90,426.00 C513.17,426.55 515.65,425.22 517.00,425.10 C518.35,424.98 518.72,424.68 520.00,425.30 C521.28,425.92 523.32,429.00 524.70,428.80 C526.08,428.60 527.10,425.08 528.30,424.10 C529.50,423.12 530.52,422.90 531.90,422.90 C533.28,422.90 535.02,424.20 536.60,424.10 C538.18,424.00 540.22,422.20 541.40,422.30 C542.58,422.40 542.92,422.13 543.70,424.70 C544.48,427.27 545.30,433.55 546.10,437.70 C546.90,441.85 547.75,448.02 548.50,449.60 C549.25,451.18 549.82,449.77 550.60,447.20 C551.38,444.63 552.17,438.35 553.20,434.20 C554.23,430.05 555.22,424.98 556.80,422.30 C558.38,419.62 560.92,418.98 562.70,418.10 C564.48,417.22 566.12,416.60 567.50,417.00 C568.88,417.40 569.62,420.40 571.00,420.50 C572.38,420.60 574.02,418.28 575.80,417.60 C577.58,416.92 580.32,416.90 581.70,416.40 C583.08,415.90 583.10,414.80 584.10,414.60 C585.10,414.40 586.52,414.70 587.70,415.20 C588.88,415.70 590.42,416.02 591.20,417.60 C591.98,419.18 592.00,421.93 592.40,424.70 C592.80,427.47 593.13,426.65 593.60,434.20 C594.07,441.75 594.55,454.03 595.20,470.00 C595.85,485.97 596.78,513.33 597.50,530.00 C598.22,546.67 598.92,565.00 599.50,570.00 C600.08,575.00 600.42,568.33 601.00,560.00 C601.58,551.67 602.33,535.00 603.00,520.00 C603.67,505.00 604.42,482.17 605.00,470.00 C605.58,457.83 606.00,451.17 606.50,447.00 C607.00,442.83 607.42,442.00 608.00,445.00 C608.58,448.00 609.33,459.50 610.00,465.00 C610.67,470.50 611.33,477.17 612.00,478.00 C612.67,478.83 613.33,473.00 614.00,470.00 C614.67,467.00 615.33,460.00 616.00,460.00 C616.67,460.00 617.15,466.67 618.00,470.00 C618.85,473.33 620.27,482.50 621.10,480.00 C621.93,477.50 622.35,463.33 623.00,455.00 C623.65,446.67 624.07,436.80 625.00,430.00 C625.93,423.20 627.43,416.27 628.60,414.20 C629.77,412.13 630.60,416.97 632.00,417.60 C633.40,418.23 634.83,418.10 637.00,418.00 C639.17,417.90 642.50,417.00 645.00,417.00 C647.50,417.00 650.23,416.17 652.00,418.00 C653.77,419.83 654.60,424.33 655.60,428.00 C656.60,431.67 657.13,435.90 658.00,440.00 C658.87,444.10 659.88,452.60 660.80,452.60 C661.72,452.60 662.63,444.77 663.50,440.00 C664.37,435.23 665.08,427.67 666.00,424.00 C666.92,420.33 667.50,418.83 669.00,418.00 C670.50,417.17 672.83,419.00 675.00,419.00 C677.17,419.00 680.83,418.17 682.00,418.00" stroke="#5dbb46" stroke-width="2.5"/>
<path d="M72.00,417.50 C76.67,417.42 90.33,417.05 100.00,417.00 C109.67,416.95 120.00,417.20 130.00,417.20 C140.00,417.20 148.33,416.98 160.00,417.00 C171.67,417.02 186.67,417.30 200.00,417.30 C213.33,417.30 228.33,417.08 240.00,417.00 C251.67,416.92 263.67,416.97 270.00,416.80 C276.33,416.63 275.67,416.68 278.00,416.00 C280.33,415.32 282.00,412.62 284.00,412.70 C286.00,412.78 284.00,415.78 290.00,416.50 C296.00,417.22 308.33,416.95 320.00,417.00 C331.67,417.05 348.33,416.80 360.00,416.80 C371.67,416.80 381.67,417.07 390.00,417.00 C398.33,416.93 405.48,416.40 410.00,416.40 C414.52,416.40 415.32,416.62 417.10,417.00 C418.88,417.38 419.70,416.63 420.70,418.70 C421.70,420.77 422.32,425.03 423.10,429.40 C423.88,433.77 424.82,440.83 425.40,444.90 C425.98,448.97 426.10,454.00 426.60,453.80 C427.10,453.60 427.80,448.55 428.40,443.70 C429.00,438.85 429.50,429.25 430.20,424.70 C430.90,420.15 431.82,417.68 432.60,416.40 C433.38,415.12 432.00,416.82 434.90,417.00 C437.80,417.18 445.05,417.40 450.00,417.50 C454.95,417.60 461.38,417.20 464.60,417.60 C467.82,418.00 468.02,418.72 469.30,419.90 C470.58,421.08 471.40,421.93 472.30,424.70 C473.20,427.47 473.90,431.57 474.70,436.50 C475.50,441.43 476.48,448.38 477.10,454.30 C477.72,460.22 477.83,461.05 478.40,472.00 C478.97,482.95 479.77,506.00 480.50,520.00 C481.23,534.00 482.13,553.50 482.80,556.00 C483.47,558.50 483.93,544.33 484.50,535.00 C485.07,525.67 485.57,511.17 486.20,500.00 C486.83,488.83 487.65,477.68 488.30,468.00 C488.95,458.32 489.43,448.77 490.10,441.90 C490.77,435.03 491.52,428.20 492.30,426.80 C493.08,425.40 493.98,429.32 494.80,433.50 C495.62,437.68 496.50,445.20 497.20,451.90 C497.90,458.60 498.45,472.30 499.00,473.70 C499.55,475.10 499.88,466.17 500.50,460.30 C501.12,454.43 501.92,445.77 502.70,438.50 C503.48,431.23 504.37,420.60 505.20,416.70 C506.03,412.80 506.58,414.82 507.70,415.10 C508.82,415.38 509.85,417.42 511.90,418.40 C513.95,419.38 516.98,420.40 520.00,421.00 C523.02,421.60 526.67,421.75 530.00,422.00 C533.33,422.25 537.75,422.00 540.00,422.50 C542.25,423.00 542.50,422.75 543.50,425.00 C544.50,427.25 545.08,432.83 546.00,436.00 C546.92,439.17 548.08,443.83 549.00,444.00 C549.92,444.17 550.67,439.83 551.50,437.00 C552.33,434.17 552.33,429.45 554.00,427.00 C555.67,424.55 558.83,422.88 561.50,422.30 C564.17,421.72 567.03,423.30 570.00,423.50 C572.97,423.70 576.52,423.37 579.30,423.50 C582.08,423.63 584.63,423.20 586.70,424.30 C588.77,425.40 590.30,424.93 591.70,430.10 C593.10,435.27 594.05,441.98 595.10,455.30 C596.15,468.62 597.03,496.35 598.00,510.00 C598.97,523.65 600.07,538.87 600.90,537.20 C601.73,535.53 602.35,512.87 603.00,500.00 C603.65,487.13 604.30,469.68 604.80,460.00 C605.30,450.32 605.60,446.38 606.00,441.90 C606.40,437.42 606.75,433.03 607.20,433.10 C607.65,433.17 608.12,436.93 608.70,442.30 C609.28,447.67 610.03,459.27 610.70,465.30 C611.37,471.33 611.95,478.53 612.70,478.50 C613.45,478.47 614.37,468.72 615.20,465.10 C616.03,461.48 616.73,457.35 617.70,456.80 C618.67,456.25 620.12,462.93 621.00,461.80 C621.88,460.67 622.40,454.02 623.00,450.00 C623.60,445.98 623.95,442.37 624.60,437.70 C625.25,433.03 626.23,425.50 626.90,422.00 C627.57,418.50 627.25,417.37 628.60,416.70 C629.95,416.03 632.27,417.95 635.00,418.00 C637.73,418.05 642.17,417.00 645.00,417.00 C647.83,417.00 650.23,416.17 652.00,418.00 C653.77,419.83 654.60,424.00 655.60,428.00 C656.60,432.00 657.13,437.90 658.00,442.00 C658.87,446.10 659.88,452.93 660.80,452.60 C661.72,452.27 662.63,444.77 663.50,440.00 C664.37,435.23 665.08,427.58 666.00,424.00 C666.92,420.42 667.50,419.42 669.00,418.50 C670.50,417.58 672.83,418.58 675.00,418.50 C677.17,418.42 680.83,418.08 682.00,418.00" stroke="#77712d" stroke-width="2.5"/>
<path d="M72.00,417.00 C75.00,417.00 83.67,417.03 90.00,417.00 C96.33,416.97 103.33,416.88 110.00,416.80 C116.67,416.72 123.33,416.58 130.00,416.50 C136.67,416.42 144.50,416.22 150.00,416.30 C155.50,416.38 159.83,416.58 163.00,417.00 C166.17,417.42 167.00,418.80 169.00,418.80 C171.00,418.80 169.83,417.30 175.00,417.00 C180.17,416.70 190.83,417.00 200.00,417.00 C209.17,417.00 220.00,417.03 230.00,417.00 C240.00,416.97 253.33,416.80 260.00,416.80 C266.67,416.80 267.75,416.67 270.00,417.00 C272.25,417.33 272.33,418.80 273.50,418.80 C274.67,418.80 274.25,417.42 277.00,417.00 C279.75,416.58 282.83,416.38 290.00,416.30 C297.17,416.22 310.83,416.38 320.00,416.50 C329.17,416.62 339.67,416.82 345.00,417.00 C350.33,417.18 349.67,417.78 352.00,417.60 C354.33,417.42 356.27,415.90 359.00,415.90 C361.73,415.90 365.67,417.50 368.40,417.60 C371.13,417.70 373.47,416.50 375.40,416.50 C377.33,416.50 377.67,417.70 380.00,417.60 C382.33,417.50 386.67,416.00 389.40,415.90 C392.13,415.80 394.45,416.42 396.40,417.00 C398.35,417.58 399.35,419.10 401.10,419.40 C402.85,419.70 405.35,418.80 406.90,418.80 C408.45,418.80 409.03,418.82 410.40,419.40 C411.77,419.98 413.93,422.60 415.10,422.30 C416.27,422.00 416.72,418.38 417.40,417.60 C418.08,416.82 418.55,416.62 419.20,417.60 C419.85,418.58 420.65,420.53 421.30,423.50 C421.95,426.47 422.52,430.27 423.10,435.40 C423.68,440.53 424.32,448.57 424.80,454.30 C425.28,460.03 425.65,466.23 426.00,469.80 C426.35,473.37 426.60,475.50 426.90,475.70 C427.20,475.90 427.45,474.57 427.80,471.00 C428.15,467.43 428.57,460.05 429.00,454.30 C429.43,448.55 429.90,441.23 430.40,436.50 C430.90,431.77 431.45,428.57 432.00,425.90 C432.55,423.23 433.12,421.80 433.70,420.50 C434.28,419.20 434.90,418.10 435.50,418.10 C436.10,418.10 436.70,419.80 437.30,420.50 C437.90,421.20 438.50,422.60 439.10,422.30 C439.70,422.00 440.22,419.88 440.90,418.70 C441.58,417.52 442.52,415.58 443.20,415.20 C443.88,414.82 444.30,415.72 445.00,416.40 C445.70,417.08 446.50,418.72 447.40,419.30 C448.30,419.88 449.32,419.90 450.40,419.90 C451.48,419.90 452.72,419.40 453.90,419.30 C455.08,419.20 456.12,419.20 457.50,419.30 C458.88,419.40 460.82,419.50 462.20,419.90 C463.58,420.30 464.77,421.12 465.80,421.70 C466.83,422.28 467.55,422.00 468.40,423.40 C469.25,424.80 470.07,428.70 470.90,430.10 C471.73,431.50 472.70,429.00 473.40,431.80 C474.10,434.60 474.55,440.20 475.10,446.90 C475.65,453.60 476.15,463.35 476.70,472.00 C477.25,480.65 477.83,482.42 478.40,498.80 C478.97,515.18 479.53,552.25 480.10,570.30 C480.67,588.35 481.38,599.85 481.80,607.10 C482.22,614.35 482.27,614.35 482.60,613.80 C482.93,613.25 483.43,611.05 483.80,603.80 C484.17,596.55 484.43,584.27 484.80,570.30 C485.17,556.33 485.72,532.18 486.00,520.00 C486.28,507.82 486.08,506.58 486.50,497.20 C486.92,487.82 487.83,473.48 488.50,463.70 C489.17,453.92 489.95,443.67 490.50,438.50 C491.05,433.33 491.30,432.42 491.80,432.70 C492.30,432.98 492.93,435.60 493.50,440.20 C494.07,444.80 494.65,452.77 495.20,460.30 C495.75,467.83 496.33,477.72 496.80,485.40 C497.27,493.08 497.57,505.00 498.00,506.40 C498.43,507.80 498.90,501.48 499.40,493.80 C499.90,486.12 500.45,470.92 501.00,460.30 C501.55,449.68 502.13,437.22 502.70,430.10 C503.27,422.98 503.70,419.27 504.40,417.60 C505.10,415.93 506.07,420.10 506.90,420.10 C507.73,420.10 508.00,418.02 509.40,417.60 C510.80,417.18 513.48,417.47 515.30,417.60 C517.12,417.73 518.73,418.40 520.30,418.40 C521.87,418.40 523.37,417.73 524.70,417.60 C526.03,417.47 526.72,417.32 528.30,417.60 C529.88,417.88 532.22,418.82 534.20,419.30 C536.18,419.78 538.72,420.10 540.20,420.50 C541.68,420.90 542.22,420.22 543.10,421.70 C543.98,423.18 544.70,426.73 545.50,429.40 C546.30,432.07 547.30,435.82 547.90,437.70 C548.50,439.58 548.65,440.90 549.10,440.70 C549.55,440.50 550.02,438.78 550.60,436.50 C551.18,434.22 551.77,429.47 552.60,427.00 C553.43,424.53 554.50,423.08 555.60,421.70 C556.70,420.32 558.02,419.43 559.20,418.70 C560.38,417.97 561.32,417.40 562.70,417.30 C564.08,417.20 565.92,417.87 567.50,418.10 C569.08,418.33 570.82,418.40 572.20,418.70 C573.58,419.00 574.42,419.90 575.80,419.90 C577.18,419.90 579.12,418.90 580.50,418.70 C581.88,418.50 583.00,418.80 584.10,418.70 C585.20,418.60 586.32,417.50 587.10,418.10 C587.88,418.70 588.22,420.22 588.80,422.30 C589.38,424.38 589.90,427.23 590.60,430.60 C591.30,433.97 592.30,437.55 593.00,442.50 C593.70,447.45 594.27,453.22 594.80,460.30 C595.33,467.38 595.75,473.38 596.20,485.00 C596.65,496.62 597.10,513.33 597.50,530.00 C597.90,546.67 598.25,570.33 598.60,585.00 C598.95,599.67 599.23,617.17 599.60,618.00 C599.97,618.83 600.43,599.67 600.80,590.00 C601.17,580.33 601.43,573.33 601.80,560.00 C602.17,546.67 602.58,524.42 603.00,510.00 C603.42,495.58 603.75,484.58 604.30,473.50 C604.85,462.42 605.73,446.92 606.30,443.50 C606.87,440.08 607.17,446.58 607.70,453.00 C608.23,459.42 608.82,470.20 609.50,482.00 C610.18,493.80 611.18,516.13 611.80,523.80 C612.42,531.47 612.70,530.80 613.20,528.00 C613.70,525.20 614.33,515.25 614.80,507.00 C615.27,498.75 615.52,481.28 616.00,478.50 C616.48,475.72 617.05,485.55 617.70,490.30 C618.35,495.05 619.20,509.80 619.90,507.00 C620.60,504.20 621.15,484.67 621.90,473.50 C622.65,462.33 623.57,448.90 624.40,440.00 C625.23,431.10 626.22,423.97 626.90,420.10 C627.58,416.23 627.65,416.77 628.50,416.80 C629.35,416.83 630.83,420.15 632.00,420.30 C633.17,420.45 634.05,418.20 635.50,417.70 C636.95,417.20 639.10,417.45 640.70,417.30 C642.30,417.15 643.78,416.58 645.10,416.80 C646.42,417.02 647.58,418.45 648.60,418.60 C649.62,418.75 650.33,417.27 651.20,417.70 C652.07,418.13 653.07,419.17 653.80,421.20 C654.53,423.23 655.02,425.53 655.60,429.90 C656.18,434.27 656.73,441.58 657.30,447.40 C657.87,453.22 658.42,460.30 659.00,464.80 C659.58,469.30 660.22,474.98 660.80,474.40 C661.38,473.82 661.83,466.97 662.50,461.30 C663.17,455.63 664.07,446.80 664.80,440.40 C665.53,434.00 666.12,426.83 666.90,422.90 C667.68,418.97 668.48,417.52 669.50,416.80 C670.52,416.08 671.68,418.60 673.00,418.60 C674.32,418.60 675.90,416.95 677.40,416.80 C678.90,416.65 681.23,417.55 682.00,417.70" stroke="#e8232a" stroke-width="2.7"/>
</g>
<g fill="none" stroke="#111" stroke-width="1.8">
<rect x="71.5" y="4.3" width="610.3" height="304.8"/>
<rect x="71.5" y="344.5" width="610.3" height="304.5"/>
</g>
<path d="M111.1,309.1v-7.5M111.1,4.3v7.5M150.5,309.1v-4M150.5,4.3v4M189.8,309.1v-7.5M189.8,4.3v7.5M229.2,309.1v-4M229.2,4.3v4M268.6,309.1v-7.5M268.6,4.3v7.5M308.0,309.1v-4M308.0,4.3v4M347.4,309.1v-7.5M347.4,4.3v7.5M386.7,309.1v-4M386.7,4.3v4M426.1,309.1v-7.5M426.1,4.3v7.5M465.5,309.1v-4M465.5,4.3v4M504.9,309.1v-7.5M504.9,4.3v7.5M544.3,309.1v-4M544.3,4.3v4M583.6,309.1v-7.5M583.6,4.3v7.5M623.0,309.1v-4M623.0,4.3v4M662.4,309.1v-7.5M662.4,4.3v7.5M111.1,649.0v-7.5M111.1,344.5v7.5M150.5,649.0v-4M150.5,344.5v4M189.8,649.0v-7.5M189.8,344.5v7.5M229.2,649.0v-4M229.2,344.5v4M268.6,649.0v-7.5M268.6,344.5v7.5M308.0,649.0v-4M308.0,344.5v4M347.4,649.0v-7.5M347.4,344.5v7.5M386.7,649.0v-4M386.7,344.5v4M426.1,649.0v-7.5M426.1,344.5v7.5M465.5,649.0v-4M465.5,344.5v4M504.9,649.0v-7.5M504.9,344.5v7.5M544.3,649.0v-4M544.3,344.5v4M583.6,649.0v-7.5M583.6,344.5v7.5M623.0,649.0v-4M623.0,344.5v4M662.4,649.0v-7.5M662.4,344.5v7.5M71.5,287.0h4M681.8,287.0h-4M71.5,263.3h7.5M681.8,263.3h-7.5M71.5,239.6h4M681.8,239.6h-4M71.5,215.9h7.5M681.8,215.9h-7.5M71.5,192.2h4M681.8,192.2h-4M71.5,168.5h7.5M681.8,168.5h-7.5M71.5,144.8h4M681.8,144.8h-4M71.5,121.1h7.5M681.8,121.1h-7.5M71.5,97.4h4M681.8,97.4h-4M71.5,73.7h7.5M681.8,73.7h-7.5M71.5,50.0h4M681.8,50.0h-4M71.5,26.3h7.5M681.8,26.3h-7.5M71.5,642.1h4M681.8,642.1h-4M71.5,609.8h7.5M681.8,609.8h-7.5M71.5,577.5h4M681.8,577.5h-4M71.5,545.2h7.5M681.8,545.2h-7.5M71.5,512.9h4M681.8,512.9h-4M71.5,480.6h7.5M681.8,480.6h-7.5M71.5,448.3h4M681.8,448.3h-4M71.5,416.0h7.5M681.8,416.0h-7.5M71.5,383.7h4M681.8,383.7h-4M71.5,351.4h7.5M681.8,351.4h-7.5" stroke="#111" stroke-width="1.6" fill="none"/>
<text transform="translate(111.08,332.20) scale(1.04,1)" font-size="17.8" text-anchor="middle">200</text>
<text transform="translate(189.84,332.20) scale(1.04,1)" font-size="17.8" text-anchor="middle">400</text>
<text transform="translate(268.60,332.20) scale(1.04,1)" font-size="17.8" text-anchor="middle">600</text>
<text transform="translate(347.36,332.20) scale(1.04,1)" font-size="17.8" text-anchor="middle">800</text>
<text transform="translate(426.12,332.20) scale(1.04,1)" font-size="17.8" text-anchor="middle">1000</text>
<text transform="translate(504.88,332.20) scale(1.04,1)" font-size="17.8" text-anchor="middle">1200</text>
<text transform="translate(583.64,332.20) scale(1.04,1)" font-size="17.8" text-anchor="middle">1400</text>
<text transform="translate(662.40,332.20) scale(1.04,1)" font-size="17.8" text-anchor="middle">1600</text>
<text transform="translate(111.08,671.90) scale(1.04,1)" font-size="17.8" text-anchor="middle">200</text>
<text transform="translate(189.84,671.90) scale(1.04,1)" font-size="17.8" text-anchor="middle">400</text>
<text transform="translate(268.60,671.90) scale(1.04,1)" font-size="17.8" text-anchor="middle">600</text>
<text transform="translate(347.36,671.90) scale(1.04,1)" font-size="17.8" text-anchor="middle">800</text>
<text transform="translate(426.12,671.90) scale(1.04,1)" font-size="17.8" text-anchor="middle">1000</text>
<text transform="translate(504.88,671.90) scale(1.04,1)" font-size="17.8" text-anchor="middle">1200</text>
<text transform="translate(583.64,671.90) scale(1.04,1)" font-size="17.8" text-anchor="middle">1400</text>
<text transform="translate(662.40,671.90) scale(1.04,1)" font-size="17.8" text-anchor="middle">1600</text>
<text transform="translate(64.30,31.60) scale(1.04,1)" font-size="17.8" text-anchor="end">1.6</text>
<text transform="translate(64.30,79.00) scale(1.04,1)" font-size="17.8" text-anchor="end">1.2</text>
<text transform="translate(64.30,126.40) scale(1.04,1)" font-size="17.8" text-anchor="end">0.8</text>
<text transform="translate(64.30,173.80) scale(1.04,1)" font-size="17.8" text-anchor="end">0.4</text>
<text transform="translate(64.30,221.20) scale(1.04,1)" font-size="17.8" text-anchor="end">0.0</text>
<text transform="translate(64.30,268.60) scale(1.04,1)" font-size="17.8" text-anchor="end">-0.4</text>
<text transform="translate(64.30,356.70) scale(1.04,1)" font-size="17.8" text-anchor="end">0.4</text>
<text transform="translate(64.30,421.30) scale(1.04,1)" font-size="17.8" text-anchor="end">0.0</text>
<text transform="translate(64.30,485.90) scale(1.04,1)" font-size="17.8" text-anchor="end">-0.4</text>
<text transform="translate(64.30,550.50) scale(1.04,1)" font-size="17.8" text-anchor="end">-0.8</text>
<text transform="translate(64.30,615.10) scale(1.04,1)" font-size="17.8" text-anchor="end">-1.2</text>
<text transform="translate(79.50,24.00) scale(1.03,1)" font-size="20" font-weight="bold">(a)</text>
<text transform="translate(79.50,369.30) scale(1.03,1)" font-size="20" font-weight="bold">(b)</text>
<g style="fill:#2f4fa5;stroke:#2f4fa5">
<text transform="translate(511.3,49.6) scale(1.05,1)" font-size="20" font-family="'Liberation Serif', serif" style="fill:#2f4fa5;stroke:none">&#955;</text>
<text transform="translate(522.3,56.4) scale(1.05,1)" font-size="13" style="fill:#2f4fa5;stroke:#2f4fa5">R</text>
<text transform="translate(532.0,49.6) scale(1.08,1)" font-size="20" style="fill:#2f4fa5;stroke:#2f4fa5">=511</text>
<text transform="translate(586.3,49.6) scale(1.1,1)" font-size="20" style="fill:#2f4fa5;stroke:#2f4fa5">nm</text>
</g>
<line x1="497" y1="73.2" x2="540.5" y2="73.2" stroke="#111" stroke-width="2.3"/>
<line x1="497" y1="97.9" x2="540.5" y2="97.9" stroke="#c4c4c4" stroke-width="4.5" stroke-linecap="round"/>
<line x1="497" y1="121.2" x2="540.5" y2="121.2" stroke="#5dbb46" stroke-width="2"/>
<text transform="translate(547.00,79.70) scale(1.02,1)" font-size="19">raw data</text>
<text transform="translate(547.00,103.70) scale(1.02,1)" font-size="19">background</text>
<text transform="translate(547.00,127.20) scale(1.02,1)" font-size="19">difference</text>
<text transform="translate(184,498.3)" font-size="18" font-family="'Liberation Serif', serif" style="stroke:none;fill:#333">&#955;</text>
<text transform="translate(197.50,505.20) scale(1.0,1)" font-size="11.5">R</text>
<text transform="translate(219.00,497.80) scale(1.05,1)" font-size="18.5">(nm)</text>
<line x1="170.1" y1="520.8" x2="214.5" y2="520.8" stroke="#2f4fa5" stroke-width="2.0"/>
<text transform="translate(219.80,527.60) scale(1.05,1)" font-size="18.3">495</text>
<line x1="170.1" y1="544.2" x2="214.5" y2="544.2" stroke="#5dbb46" stroke-width="2.0"/>
<text transform="translate(219.80,551.00) scale(1.05,1)" font-size="18.3">511</text>
<line x1="170.1" y1="568.0" x2="214.5" y2="568.0" stroke="#77712d" stroke-width="2.0"/>
<text transform="translate(219.80,574.80) scale(1.05,1)" font-size="18.3">540</text>
<line x1="170.1" y1="592.2" x2="214.5" y2="592.2" stroke="#e8232a" stroke-width="2.0"/>
<text transform="translate(219.80,599.00) scale(1.05,1)" font-size="18.3">590</text>
<text transform="translate(208.5,705.7) scale(1.0,1)" font-size="19.5">Stokes wavenumber (<tspan font-family="'Liberation Serif', serif" style="stroke:none">&#957;</tspan> <tspan style="fill:#777;stroke:#777">&#8211;</tspan> <tspan font-family="'Liberation Serif', serif" style="stroke:none">&#957;</tspan><tspan font-size="13" dy="6">R</tspan><tspan dy="-6"> ) (cm</tspan><tspan font-size="12" dy="-8">-1</tspan><tspan dy="8">)</tspan></text>
<text transform="translate(15.6,482) rotate(-90)" font-size="18.8">differential absorbance &#916;A (mOD)</text>
</svg></body></html>
